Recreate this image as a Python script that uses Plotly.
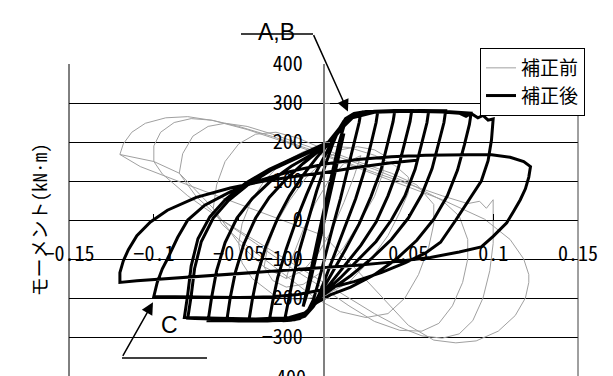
import plotly.graph_objects as go

# ---------------- data ----------------
# 補正後 (corrected) – black hysteresis, branch by branch
after_c1 = [(0, 0), (0.003, 60), (0.006, 120), (0.009, 175), (0.012, 222), (0.01, 185), (0.006, 110), (0.002, 30),
            (-0.002, -50), (-0.006, -125), (-0.009, -180), (-0.012, -222)]
after_r1 = [(-0.01, -180), (-0.006, -100), (-0.002, -20), (0.002, 60), (0.006, 140), (0.009, 195), (0.012, 240),
            (0.015, 262), (0.018, 272), (0.022, 276)]
after_u2 = [(0.021, 250), (0.018, 195), (0.014, 125), (0.01, 55), (0.005, -25), (0.001, -95), (-0.003, -160),
            (-0.006, -205), (-0.01, -240), (-0.014, -253), (-0.019, -257), (-0.023, -258)]
after_r2 = [(-0.021, -215), (-0.018, -150), (-0.014, -75), (-0.009, 0), (-0.004, 75), (0.001, 140), (0.005, 190),
            (0.009, 232), (0.013, 260), (0.018, 273), (0.025, 278), (0.032, 279)]
after_u3 = [(0.031, 250), (0.028, 195), (0.024, 125), (0.019, 55), (0.013, -15), (0.007, -80), (0.002, -140),
            (-0.002, -185), (-0.006, -222), (-0.011, -247), (-0.017, -256), (-0.025, -258), (-0.032, -259)]
after_r3 = [(-0.03, -210), (-0.027, -148), (-0.022, -75), (-0.016, 0), (-0.01, 65), (-0.004, 125), (0.002, 175),
            (0.007, 218), (0.012, 254), (0.017, 271), (0.025, 278), (0.034, 280), (0.042, 280)]
after_u4 = [(0.041, 252), (0.038, 198), (0.034, 130), (0.028, 60), (0.021, -10), (0.013, -75), (0.006, -130),
            (0.0, -175), (-0.004, -205), (-0.009, -236), (-0.015, -253), (-0.025, -258), (-0.035, -259), (-0.044, -259)]
after_r4 = [(-0.042, -205), (-0.039, -140), (-0.034, -68), (-0.027, 5), (-0.02, 62), (-0.012, 115), (-0.004, 160),
            (0.003, 196), (0.009, 233), (0.014, 260), (0.02, 273), (0.03, 279), (0.042, 281), (0.052, 281)]
after_u5 = [(0.051, 252), (0.048, 198), (0.044, 132), (0.038, 62), (0.031, -5), (0.022, -65), (0.013, -115),
            (0.005, -158), (-0.001, -190), (-0.006, -222), (-0.012, -248), (-0.02, -256), (-0.035, -258),
            (-0.05, -259), (-0.057, -258)]
after_r5 = [(-0.055, -200), (-0.052, -135), (-0.047, -62), (-0.04, 5), (-0.032, 58), (-0.022, 105), (-0.012, 145),
            (-0.003, 176), (0.004, 204), (0.01, 238), (0.015, 262), (0.022, 275), (0.035, 279), (0.05, 281),
            (0.062, 280)]
after_u6 = [(0.061, 250), (0.058, 196), (0.054, 130), (0.048, 62), (0.04, 0), (0.031, -55), (0.02, -105),
            (0.01, -148), (0.002, -180), (-0.004, -208), (-0.009, -236), (-0.016, -252), (-0.03, -257),
            (-0.05, -258), (-0.068, -258)]
after_r6 = [(-0.066, -200), (-0.063, -130), (-0.058, -58), (-0.051, 5), (-0.042, 55), (-0.031, 100), (-0.019, 138),
            (-0.007, 168), (0.002, 195), (0.008, 228), (0.014, 260), (0.022, 275), (0.04, 280), (0.058, 281),
            (0.072, 280)]
after_u7 = [(0.071, 250), (0.068, 196), (0.064, 132), (0.058, 66), (0.05, 5), (0.04, -50), (0.028, -100),
            (0.016, -143), (0.005, -176), (-0.002, -198), (-0.008, -230), (-0.014, -248), (-0.03, -255),
            (-0.055, -255), (-0.08, -252)]
after_r7 = [(-0.078, -195), (-0.076, -125), (-0.072, -55), (-0.065, 5), (-0.056, 50), (-0.044, 92), (-0.03, 130),
            (-0.016, 158), (-0.004, 182), (0.005, 204), (0.011, 236), (0.017, 262), (0.03, 276), (0.05, 280),
            (0.07, 279), (0.087, 274)]
after_u8 = [(0.086, 245), (0.083, 192), (0.079, 128), (0.073, 62), (0.065, 2), (0.055, -52), (0.043, -100),
            (0.03, -140), (0.016, -172), (0.004, -192), (-0.004, -212), (-0.011, -238), (-0.02, -250),
            (-0.04, -254), (-0.065, -252), (-0.082, -250)]
after_r8 = [(-0.08, -190), (-0.078, -118), (-0.074, -48), (-0.067, 8), (-0.058, 52), (-0.046, 94), (-0.032, 130),
            (-0.018, 158), (-0.006, 180), (0.004, 202), (0.01, 234), (0.016, 262), (0.03, 276), (0.05, 279),
            (0.07, 277), (0.08, 274), (0.084, 266), (0.087, 273), (0.091, 262), (0.094, 268), (0.097, 256),
            (0.1, 259)]
after_u9 = [(0.099, 205), (0.097, 152), (0.093, 100), (0.086, 52), (0.078, 0), (0.069, -57), (0.06, -85),
            (0.048, -110), (0.034, -135), (0.018, -158), (0.0, -178), (-0.015, -191), (-0.03, -197), (-0.05, -199),
            (-0.07, -198), (-0.09, -197), (-0.1, -196)]
after_r9 = [(-0.098, -160), (-0.095, -125), (-0.092, -100), (-0.086, -45), (-0.08, 0), (-0.07, 38), (-0.055, 72),
            (-0.04, 98), (-0.02, 124), (0.0, 143), (0.02, 155), (0.04, 162), (0.06, 166), (0.08, 167), (0.098, 168),
            (0.11, 161), (0.118, 150), (0.122, 137)]
after_u10 = [(0.121, 110), (0.119, 80), (0.116, 52), (0.112, 22), (0.108, -7), (0.1, -42), (0.093, -69),
             (0.08, -82), (0.063, -96), (0.04, -108), (0.02, -116), (0.0, -122), (-0.03, -131), (-0.06, -140),
             (-0.09, -150), (-0.11, -156), (-0.12, -160)]
after_r10 = [(-0.12, -135), (-0.118, -105), (-0.115, -76), (-0.11, -40), (-0.102, -5), (-0.092, 25), (-0.075, 58),
             (-0.055, 82), (-0.035, 100), (-0.015, 113), (0.001, 122), (0.02, 135), (0.04, 147), (0.055, 153)]

# 補正前 (uncorrected) – grey loops
before_g1 = [(-0.022, -150), (-0.018, -92), (-0.012, -25), (-0.005, 42), (0.003, 100), (0.012, 145), (0.022, 165),
             (0.018, 112), (0.012, 45), (0.005, -25), (-0.003, -85), (-0.012, -130), (-0.022, -150)]
before_g2 = [(-0.035, -120), (-0.033, -70), (-0.028, -10), (-0.02, 50), (-0.01, 110), (0.0, 152), (0.01, 180),
             (0.02, 188), (0.03, 180), (0.036, 165), (0.035, 120), (0.03, 60), (0.022, 0), (0.012, -70),
             (0.0, -130), (-0.012, -165), (-0.022, -172), (-0.03, -155), (-0.035, -120)]
before_g3 = [(-0.05, -60), (-0.048, -10), (-0.043, 45), (-0.035, 100), (-0.025, 145), (-0.012, 175), (0.0, 190),
             (0.015, 186), (0.03, 166), (0.042, 140), (0.05, 110), (0.05, 70), (0.045, 20), (0.038, -40),
             (0.028, -100), (0.015, -160), (0.0, -195), (-0.015, -205), (-0.03, -190), (-0.042, -150),
             (-0.048, -110), (-0.05, -60)]
before_g4 = [(-0.065, 30), (-0.063, 90), (-0.058, 150), (-0.05, 195), (-0.04, 220), (-0.028, 225), (-0.015, 210),
             (0.0, 182), (0.02, 150), (0.04, 120), (0.055, 90), (0.065, 40), (0.065, -10), (0.062, -70),
             (0.056, -140), (0.048, -200), (0.038, -240), (0.025, -250), (0.01, -235), (-0.005, -200),
             (-0.02, -150), (-0.035, -100), (-0.05, -50), (-0.06, -10), (-0.065, 30)]
before_g5 = [(-0.085, 120), (-0.083, 170), (-0.077, 215), (-0.068, 240), (-0.058, 248), (-0.045, 240),
             (-0.03, 220), (-0.01, 190), (0.01, 160), (0.03, 130), (0.05, 95), (0.07, 50), (0.08, 10),
             (0.085, -50), (0.085, -100), (0.082, -160), (0.076, -220), (0.068, -265), (0.058, -285),
             (0.045, -283), (0.03, -260), (0.015, -220), (0.0, -175), (-0.02, -120), (-0.04, -60), (-0.06, 0),
             (-0.075, 60), (-0.085, 120)]
before_g6 = [(-0.1, 150), (-0.1, 190), (-0.096, 225), (-0.088, 250), (-0.078, 260), (-0.066, 256), (-0.05, 240),
             (-0.03, 214), (-0.01, 184), (0.01, 152), (0.03, 122), (0.05, 92), (0.07, 62), (0.085, 42),
             (0.092, 48), (0.096, 30), (0.1, 52), (0.1, 0), (0.1, -60), (0.098, -130), (0.094, -200),
             (0.088, -258), (0.08, -292), (0.07, -303), (0.058, -297), (0.045, -275), (0.03, -240),
             (0.015, -200), (0.0, -160), (-0.02, -108), (-0.04, -55), (-0.06, 0), (-0.08, 62), (-0.095, 118),
             (-0.1, 150)]
before_g7 = [(-0.12, 168), (-0.118, 195), (-0.113, 225), (-0.105, 248), (-0.093, 262), (-0.08, 265),
             (-0.065, 255), (-0.045, 232), (-0.02, 196), (0.01, 150), (0.04, 102), (0.07, 52), (0.095, 2),
             (0.11, -50), (0.118, -100), (0.121, -140), (0.121, -160), (0.119, -200), (0.113, -245),
             (0.103, -285), (0.09, -310), (0.078, -315), (0.065, -308), (0.05, -270), (0.035, -200),
             (0.02, -130), (0.0, -40), (-0.02, -8), (-0.052, 45), (-0.08, 90), (-0.108, 137), (-0.12, 168)]

x_ticks = [-0.15, -0.1, -0.05, 0.05, 0.1, 0.15]
x_tick_text = ["−0.15", "−0.1", "−0.05", "0.05", "0.1", "0.15"]
y_ticks = [-400, -300, -200, -100, 0, 100, 200, 300, 400]
series_names = ["補正前", "補正後"]
y_title = "モーメント(kN·m)"

after_branches = [after_c1, after_r1, after_u2, after_r2, after_u3, after_r3, after_u4, after_r4, after_u5,
                  after_r5, after_u6, after_r6, after_u7, after_r7, after_u8, after_r8, after_u9, after_r9,
                  after_u10, after_r10]
before_branches = [before_g1, before_g2, before_g3, before_g4, before_g5, before_g6, before_g7]


def unzip(branches):
    pts = [p for b in branches for p in b]
    return [p[0] for p in pts], [p[1] for p in pts]


bx, by = unzip(before_branches)
ax_, ay_ = unzip(after_branches)

FONT = "Noto Sans Mono CJK JP, Noto Sans CJK JP, sans-serif"
LATIN = "Liberation Sans, Arial, sans-serif"

fig = go.Figure()
fig.add_trace(go.Scatter(x=bx, y=by, mode="lines", name=series_names[0],
                         line=dict(color="#a0a0a0", width=1)))
fig.add_trace(go.Scatter(x=ax_, y=ay_, mode="lines", name=series_names[1],
                         line=dict(color="black", width=3)))

fig.update_layout(
    width=613, height=376,
    margin=dict(l=69, r=35, t=64, b=0, pad=0),
    paper_bgcolor="white", plot_bgcolor="white",
    font=dict(family=FONT, size=20, color="black"),
    showlegend=True,
    legend=dict(x=0.8075, y=1.0513, xanchor="left", yanchor="top",
                bgcolor="white", bordercolor="black", borderwidth=1,
                font=dict(size=19), tracegroupgap=0, itemwidth=30),
    xaxis=dict(range=[-0.15, 0.15], tickvals=x_ticks, ticktext=x_tick_text, showgrid=False, zeroline=False,
               anchor="free", position=0.5, showline=True, linecolor="black", linewidth=1,
               ticks="inside", ticklen=6, tickcolor="black", ticklabelstandoff=16,
               tickfont=dict(size=20)),
    yaxis=dict(range=[-400, 400], tickvals=y_ticks, showgrid=True, gridcolor="black", gridwidth=1,
               zeroline=False, anchor="free", position=0.5, showline=True, linecolor="#808080",
               linewidth=1.5, ticks="inside", ticklen=6, tickcolor="#808080", ticklabelstandoff=16,
               tickfont=dict(size=20)),
    shapes=[
        dict(type="line", xref="x domain", yref="y domain", x0=0, x1=0, y0=0, y1=1,
             line=dict(color="black", width=1)),
        dict(type="line", xref="x domain", yref="y domain", x0=1, x1=1, y0=0, y1=1,
             line=dict(color="#404040", width=1)),
        dict(type="line", xref="paper", yref="paper", x0=0.3379, x1=0.4794, y0=1.0962, y1=1.0962,
             line=dict(color="black", width=1.5)),
        dict(type="line", xref="paper", yref="paper", x0=0.1041, x1=0.2711, y0=0.0577, y1=0.0577,
             line=dict(color="black", width=1.5)),
    ],
    annotations=[
        dict(text="A,B", xref="paper", yref="paper", x=0.4086, y=1.1506, showarrow=False,
             font=dict(size=23, family=LATIN)),
        dict(text="C", xref="paper", yref="paper", x=0.1768, y=0.1154, showarrow=False,
             font=dict(size=23, family=LATIN)),
        dict(text="", x=0.0144, y=278, xref="x", yref="y", ax=-35, ay=-78, showarrow=True,
             arrowhead=2, arrowsize=1.6, arrowwidth=1.5, arrowcolor="black", standoff=0),
        dict(text="", x=-0.1005, y=-211, xref="x", yref="y", ax=-31, ay=55, showarrow=True,
             arrowhead=2, arrowsize=1.6, arrowwidth=1.5, arrowcolor="black", standoff=0),
        dict(text="−400", xref="x", yref="y", x=0, y=y_ticks[0], xanchor="right", xshift=-16,
             showarrow=False, font=dict(size=20)),
        dict(text=y_title, xref="paper", yref="paper", x=-0.0904, y=0.5, showarrow=False,
             textangle=-90, font=dict(size=19)),
    ],
)

fig.write_html("out.html", config={"displayModeBar": False},
               post_script="document.body.style.margin='0';document.body.style.overflow='hidden';")
